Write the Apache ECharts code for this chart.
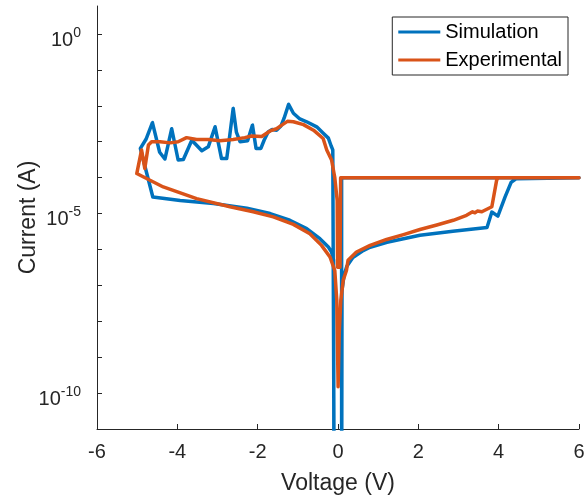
<!DOCTYPE html>
<html>
<head>
<meta charset="utf-8">
<script src="https://cdn.jsdelivr.net/npm/echarts@6/dist/echarts.min.js"></script>
<style>html,body{margin:0;padding:0;background:#fff}#c{width:584px;height:497px}</style>
</head>
<body>
<div id="c"></div>
<script>
// Simulation (blue) sweep: voltage (V) and current (A)
var simV = [0.09, 0.10, 0.15, 0.22, 0.37, 0.60, 0.80, 1.22, 2.04, 2.86, 3.71, 3.83, 3.98, 4.16, 4.31, 4.43, 6.0,
  0.09, 0.09, -0.09, -0.13, -0.17, -0.24, -0.36, -0.53, -0.78, -0.95, -1.11, -1.23, -1.34, -1.42, -1.53, -1.64,
  -1.74, -1.84, -1.92, -2.04, -2.13, -2.25, -2.44, -2.53, -2.61, -2.71, -2.77, -2.90, -3.06, -3.23, -3.39, -3.64,
  -3.85, -3.98, -4.14, -4.31, -4.44, -4.62, -4.78, -4.92, -4.61, -3.93, -3.10, -2.27, -1.69, -1.20, -0.78, -0.45,
  -0.24, -0.16, -0.11, -0.10];
var simI = [1e-14, 7.2e-8, 1.9e-7, 3.4e-7, 6.0e-7, 8.9e-7, 1.15e-6, 1.58e-6, 2.5e-6, 3.2e-6, 4.1e-6, 1.1e-5, 8.5e-6, 2.9e-5, 7.4e-5, 9.3e-5, 1e-4,
  1e-4, 1e-14, 1e-14, 5.9e-4, 7.6e-4, 1.26e-3, 1.7e-3, 2.6e-3, 3.6e-3, 4.3e-3, 6.2e-3, 1.1e-2, 4.6e-3, 2.75e-3, 2.1e-3, 2.2e-3,
  1.86e-3, 1.1e-3, 6.5e-4, 6.5e-4, 2.9e-3, 1.07e-3, 1.0e-3, 1.86e-3, 8.5e-3, 1.1e-3, 3.4e-4, 3.4e-4, 2.6e-3, 7.2e-4, 5.6e-4, 1.1e-3,
  3.2e-4, 3.1e-4, 2.3e-3, 3.3e-4, 5.1e-4, 3.4e-3, 1.17e-3, 6.5e-4, 2.9e-5, 2.3e-5, 1.9e-5, 1.4e-5, 1.0e-5, 6.5e-6, 3.8e-6, 2.0e-6,
  1.17e-6, 8.5e-7, 5.0e-7, 1e-14];

// Experimental (orange) sweep: voltage (V) and current (A)
var expV = [0.003, 0.03, 0.07, 0.13, 0.21, 0.25, 0.46, 0.80, 1.21, 1.63, 2.04, 2.46, 2.87, 3.20, 3.35, 3.41, 3.47, 3.58,
  3.83, 3.95, 3.99, 6.0, 0.066, 0.05, -0.01, -0.02, -0.08, -0.16, -0.28, -0.37, -0.61, -0.86, -1.11, -1.26, -1.40,
  -1.53, -1.69, -1.90, -2.15, -2.32, -2.61, -2.94, -3.23, -3.52, -3.77, -3.98, -4.18, -4.43, -4.64, -4.72, -4.81,
  -4.89, -5.01, -4.35, -3.52, -2.69, -2.11, -1.61, -1.11, -0.70, -0.41, -0.20, -0.08, -0.03, 0.003];
var expI = [1.5e-10, 4.6e-9, 3.8e-8, 1.4e-7, 2.6e-7, 5.0e-7, 8.5e-7, 1.3e-6, 1.9e-6, 2.6e-6, 3.6e-6, 4.8e-6, 6.5e-6, 8.9e-6, 1.12e-5, 1.05e-5, 1.17e-5, 1.12e-5,
  1.55e-5, 8.5e-5, 1e-4, 1e-4, 1e-4, 3.2e-7, 3.2e-7, 2.3e-5, 1.0e-4, 3.1e-4, 5.9e-4, 1.23e-3, 2.1e-3, 3.0e-3, 3.6e-3, 3.7e-3, 2.9e-3,
  2.3e-3, 2.0e-3, 1.4e-3, 1.45e-3, 1.3e-3, 1.15e-3, 1.07e-3, 1.15e-3, 1.15e-3, 1.3e-3, 1.0e-3, 9.3e-4, 1.0e-3, 1.0e-3, 8.1e-4, 1.8e-4,
  5.9e-4, 1.3e-4, 5.5e-5, 2.6e-5, 1.55e-5, 1.12e-5, 8.1e-6, 5.0e-6, 2.75e-6, 1.3e-6, 6.2e-7, 2.6e-7, 3.8e-8, 1.5e-10];

var xTicks = [-6, -4, -2, 0, 2, 4, 6];
var yTickExps = [-10, -9, -8, -7, -6, -5, -4, -3, -2, -1, 0];
var yLabelExps = [-10, -5, 0];

function pairs(vs, is) {
  return vs.map(function (v, k) { return [v, Math.log10(is[k])]; });
}

var FONT = '"Liberation Sans", Arial, Helvetica, sans-serif';
var AX = '#262626';
var chart = echarts.init(document.getElementById('c'), null, {renderer: 'canvas'});
chart.setOption({
  animation: false,
  backgroundColor: '#ffffff',
  textStyle: {fontFamily: FONT},
  grid: {left: 97, right: 5, top: 6, bottom: 68, containLabel: false, outerBoundsMode: 'none'},
  legend: {
    orient: 'vertical', right: 16, top: 17, align: 'left',
    padding: [5, 6, 5, 6], itemGap: 8, itemWidth: 42, itemHeight: 3, icon: 'rect',
    backgroundColor: '#ffffff', borderColor: AX, borderWidth: 1, borderRadius: 0,
    textStyle: {fontFamily: FONT, fontSize: 20, color: '#000000'},
    data: ['Simulation', 'Experimental']
  },
  xAxis: {
    type: 'value', min: -6, max: 6, interval: 2,
    name: 'Voltage (V)', nameLocation: 'middle', nameGap: 43, nameMoveOverlap: false,
    nameTextStyle: {fontFamily: FONT, fontSize: 23, color: AX},
    axisLine: {show: true, onZero: false, lineStyle: {color: AX, width: 1}},
    axisTick: {show: true, inside: true, length: 5, lineStyle: {color: AX}, customValues: xTicks},
    axisLabel: {fontFamily: FONT, fontSize: 20, color: AX, margin: 13, customValues: xTicks,
      formatter: function (v) { return String(v); }},
    splitLine: {show: false}
  },
  yAxis: {
    type: 'value', min: -11, max: 0.78, interval: 1,
    name: 'Current (A)', nameLocation: 'middle', nameGap: 57, nameMoveOverlap: false,
    nameTextStyle: {fontFamily: FONT, fontSize: 23, color: AX},
    axisLine: {show: true, onZero: false, lineStyle: {color: AX, width: 1}},
    axisTick: {show: true, inside: true, length: 5, lineStyle: {color: AX}, customValues: yTickExps},
    axisLabel: {
      fontFamily: FONT, color: AX, margin: 16, customValues: yLabelExps,
      formatter: function (v) {
        if (Math.abs(v - Math.round(v)) > 1e-6 || Math.round(v) % 5 !== 0) return '';
        return '{b|10}{s|' + Math.round(v) + '}';
      },
      rich: {
        b: {fontFamily: FONT, fontSize: 20, color: AX, padding: [12, 0, 0, 0]},
        s: {fontFamily: FONT, fontSize: 14, color: AX, padding: [0, 0, 2, 0]}
      }
    },
    splitLine: {show: false}
  },
  series: [
    {name: 'Simulation', type: 'line', data: pairs(simV, simI), symbol: 'none', showSymbol: false,
      clip: true, color: '#0072BD', lineStyle: {color: '#0072BD', width: 3.5, join: 'round', cap: 'round'}, z: 2},
    {name: 'Experimental', type: 'line', data: pairs(expV, expI), symbol: 'none', showSymbol: false,
      clip: true, color: '#D95319', lineStyle: {color: '#D95319', width: 3.5, join: 'round', cap: 'round'}, z: 3}
  ]
});
</script>
</body>
</html>
